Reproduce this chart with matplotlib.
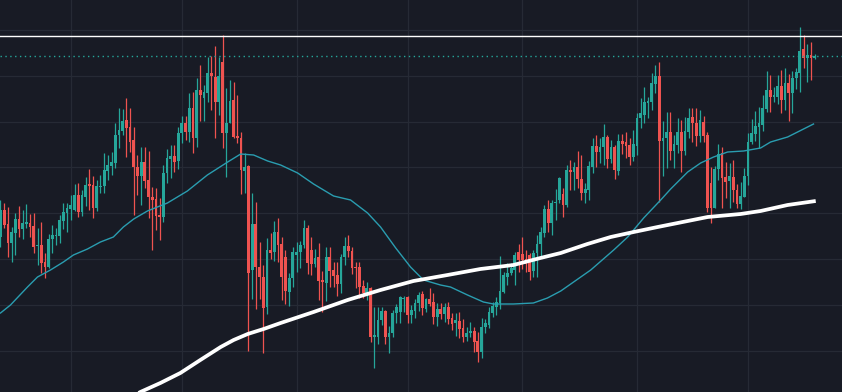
import numpy as np
import matplotlib.pyplot as plt

# daily candles, price units
opens = [163, 190, 176, 157, 167, 181, 171, 176, 177, 174, 154, 155, 138, 133, 161, 164, 164, 179, 187, 191,
         190, 205, 188, 203, 216, 215, 192, 213, 214, 229, 234, 237, 265, 269, 280, 273, 260, 233,
         224, 238, 220, 203, 201, 185, 183, 227, 241, 244, 239, 267, 277, 268, 292, 262, 310, 302,
         307, 327, 323, 298, 338, 267, 277, 300, 264, 262, 229, 234, 130, 176, 133, 123, 93, 150, 148, 168,
         156, 143, 108, 122, 145, 148, 155, 172, 150, 136, 143, 120, 117, 143, 130, 125, 116, 143, 154, 149,
         133, 133, 114, 107, 112, 63, 63, 80, 89, 63, 67, 87, 88, 101, 103, 85, 89, 97,
         106, 91, 101, 98, 83, 91, 86, 93, 82, 77, 79, 72, 63, 67, 69, 59, 48, 73, 75, 87,
         93, 97, 108, 123, 127, 130, 148, 146, 141, 145, 129, 147, 156, 167, 191, 177, 197, 200,
         206, 195, 230, 228, 233, 221, 207, 210, 233, 254, 248, 253, 263, 241, 253, 229, 259, 258,
         255, 243, 254, 282, 285, 297, 298, 316, 324, 259, 262, 268, 249, 255, 268, 249, 268, 283, 277,
         264, 278, 265, 217, 192, 231, 247, 223, 219, 223, 210, 196, 203, 224, 258, 266, 273, 275,
         291, 310, 303, 303, 314, 300, 317, 307, 322, 327, 351, 342, 345, 342]
highs = [200, 197, 193, 173, 187, 194, 190, 196, 186, 187, 172, 178, 147, 166, 175, 172, 185, 197, 197, 205,
         216, 217, 210, 223, 231, 224, 220, 225, 247, 245, 248, 277, 292, 291, 302, 292, 273, 245,
         253, 253, 249, 213, 212, 202, 235, 251, 255, 255, 273, 284, 284, 307, 308, 322, 335, 315,
         343, 344, 354, 343, 365, 312, 320, 318, 305, 268, 247, 235, 207, 198, 158, 135, 162, 167, 179, 182,
         163, 150, 127, 153, 158, 159, 180, 175, 163, 151, 157, 129, 153, 153, 138, 138, 146, 163, 165, 153,
         138, 138, 120, 118, 113, 93, 93, 93, 90, 74, 90, 96, 104, 104, 104, 95, 101, 108,
         109, 102, 112, 107, 97, 97, 97, 98, 87, 87, 88, 81, 73, 78, 73, 68, 82, 81, 93, 98,
         103, 144, 128, 137, 137, 148, 156, 163, 150, 147, 150, 165, 173, 195, 200, 200, 211, 223,
         212, 235, 240, 238, 249, 245, 217, 239, 262, 265, 262, 276, 265, 260, 255, 266, 266, 268,
         262, 270, 287, 302, 313, 303, 327, 335, 338, 279, 288, 288, 265, 282, 280, 283, 292, 292, 292,
         290, 284, 268, 233, 234, 256, 253, 238, 237, 240, 216, 218, 232, 267, 281, 289, 293, 305,
         329, 325, 313, 325, 330, 332, 326, 329, 332, 373, 365, 356, 358, 346]
lows = [153, 172, 143, 138, 145, 163, 161, 172, 163, 147, 135, 127, 122, 132, 147, 155, 157, 171, 168, 180,
        189, 183, 184, 194, 190, 182, 189, 207, 207, 220, 225, 232, 252, 265, 243, 248, 185, 205,
        195, 212, 182, 150, 170, 160, 178, 217, 222, 228, 231, 257, 260, 258, 247, 253, 279, 279,
        298, 290, 262, 285, 252, 223, 277, 262, 257, 206, 207, 49, 101, 91, 101, 47, 86, 141, 139, 138,
        100, 96, 94, 113, 128, 132, 152, 126, 125, 133, 100, 88, 99, 113, 113, 104, 107, 135, 143, 126,
        112, 102, 102, 100, 58, 32, 56, 75, 56, 47, 63, 77, 77, 88, 77, 77, 82, 89,
        85, 88, 94, 76, 74, 81, 78, 76, 70, 64, 62, 58, 59, 63, 48, 38, 42, 67, 72, 83,
        85, 91, 107, 115, 125, 115, 128, 131, 128, 120, 123, 123, 143, 163, 168, 165, 180, 197,
        183, 193, 210, 210, 212, 200, 197, 200, 227, 233, 237, 235, 232, 237, 221, 225, 246, 242,
        235, 239, 245, 272, 277, 282, 290, 307, 198, 224, 232, 240, 232, 247, 228, 245, 262, 258, 254,
        258, 258, 188, 177, 192, 220, 192, 202, 192, 198, 192, 191, 203, 215, 256, 259, 252, 269,
        288, 288, 298, 296, 287, 290, 279, 287, 311, 308, 332, 318, 320, 341]
closes = [190, 175, 157, 168, 181, 171, 177, 178, 173, 153, 155, 137, 133, 161, 165, 165, 180, 188, 192, 195,
          205, 188, 205, 215, 214, 192, 214, 214, 230, 235, 238, 265, 270, 279, 272, 258, 233, 224,
          238, 219, 203, 200, 184, 183, 227, 242, 244, 238, 267, 277, 268, 292, 262, 310, 305, 308,
          327, 324, 298, 324, 267, 277, 299, 263, 262, 230, 233, 127, 176, 133, 123, 92, 150, 147, 168, 155,
          123, 109, 122, 148, 148, 155, 172, 137, 136, 142, 119, 118, 143, 129, 124, 116, 143, 154, 149, 132,
          132, 113, 107, 112, 63, 65, 80, 89, 63, 67, 87, 93, 103, 102, 85, 90, 97, 105,
          92, 101, 96, 83, 91, 86, 93, 81, 76, 80, 71, 63, 67, 69, 58, 48, 73, 77, 88, 94,
          98, 109, 125, 127, 132, 145, 140, 140, 136, 128, 147, 156, 168, 191, 177, 197, 198, 222,
          195, 230, 228, 233, 221, 207, 211, 234, 254, 248, 253, 263, 241, 253, 230, 259, 256, 254,
          243, 256, 282, 287, 298, 299, 317, 324, 259, 262, 268, 249, 256, 268, 249, 269, 282, 277, 264,
          280, 264, 192, 192, 231, 246, 222, 218, 224, 210, 196, 204, 224, 258, 267, 274, 277, 292,
          310, 303, 305, 314, 300, 317, 307, 322, 328, 349, 342, 345, 342, 344]

# moving averages, sampled (candle index, value)
ma50_idx = [0, 2.7, 7.3, 10, 13.5, 17, 19.7, 23.5, 27, 30.5, 33.2, 36, 39.7, 45.1, 50.5, 55.9, 61.4, 64.9,
            68.4, 72.2, 75.7, 80.3, 84.6, 90, 94.6, 99.2, 102.7, 106.8, 110.8, 114.3, 118.9, 121.6,
            126.2, 130.5, 133.2, 138.6, 144, 147.8, 151.4, 159.5, 165.7, 169.5, 173.8, 178.4, 181.1,
            185.7, 189.2, 192.7, 196.5, 200.8, 205.4, 208.1, 212.7, 215.4, 219.7]
ma50_val = [87, 95, 113, 123, 130, 138, 145, 151, 158, 163, 173, 181, 189, 197, 209, 225, 238, 246,
            245, 239, 235, 227, 216, 204, 200, 187, 173, 152, 133, 120, 115, 113,
            105, 98, 96, 96, 97, 102, 109, 130, 150, 163, 182, 200, 211,
            228, 237, 243, 248, 249, 252, 258, 263, 268, 276]
ma200_idx = [33, 37.8, 43.2, 48.6, 54, 59.5, 63, 66.8, 71.1, 75.7, 84.6, 93.8, 102.7, 111.6, 120.8,
             129.7, 138.6, 145.9, 151.4, 158.6, 164.9, 171.1, 177.6, 183, 191.1, 200, 205.4, 212.7, 220.3]
ma200_val = [-2, 8, 17, 27, 40, 53, 60, 66, 71, 77, 88, 100, 110, 119, 125,
             131, 135, 142, 147, 156, 163, 168, 173, 177, 183, 186, 189, 195, 199]

month_ticks = [19, 49, 80, 110, 141, 172, 202]
high_level = 364

UP = "#26a69a"
DOWN = "#ef5350"
BG = "#181b25"
GRID = "#262a35"

o = np.array(opens)
h = np.array(highs)
l = np.array(lows)
c = np.array(closes)
x = np.arange(len(o))
up = c >= o
col = np.where(up, UP, DOWN)

fig = plt.figure(figsize=(8.42, 3.92), dpi=100, facecolor=BG)
ax = fig.add_axes([0, 0, 1, 1], facecolor=BG)

ax.set_xticks(month_ticks)
ax.set_yticks(np.arange(49, 400, 45.9))
ax.grid(True, color=GRID, linewidth=0.9)
ax.tick_params(length=0, labelbottom=False, labelleft=False)
for s in ax.spines.values():
    s.set_visible(False)

ax.vlines(x, l, h, colors=col, linewidth=0.9, zorder=2)
body_lo = np.minimum(o, c)
body_h = np.maximum(np.abs(c - o), 1)
ax.bar(x, body_h, bottom=body_lo, width=0.75, color=col, linewidth=0, zorder=3)

ax.plot(ma50_idx, ma50_val, color="#2a9db0", linewidth=1.0, zorder=4)
ax.plot(ma200_idx, ma200_val, color="white", linewidth=2.7, solid_capstyle="butt", zorder=5)

ax.axhline(high_level, color="white", linewidth=1.0, zorder=4)
ax.axhline(c[-1], color=UP, linewidth=1.0, linestyle=(0, (1, 2.5)), zorder=4)

ax.set_xlim(-0.135, 227.4)
ax.set_ylim(8, 400)

fig.savefig("out.png", dpi=100, facecolor=BG)
